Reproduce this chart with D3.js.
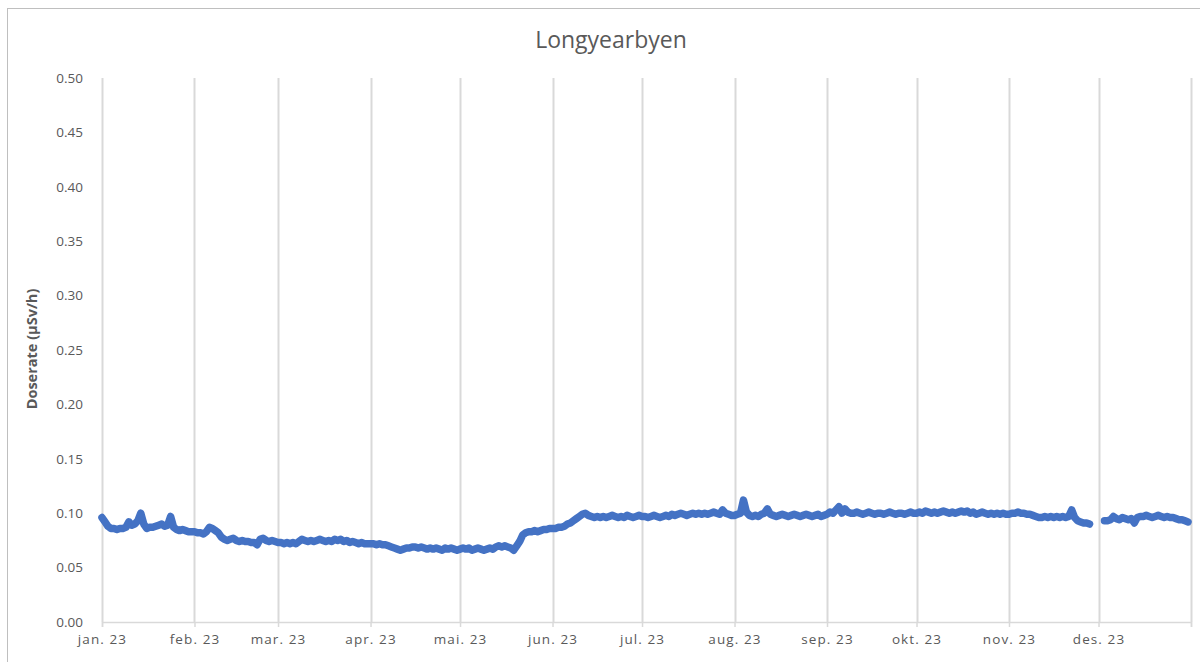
<!DOCTYPE html>
<html lang="en">
<head>
  <meta charset="UTF-8">
  <title>Longyearbyen</title>
  <script src="https://d3js.org/d3.v7.min.js"></script>
  <style>
    body { margin: 0; background: #ffffff; }
    text { font-family: "Open Sans", "Liberation Sans", sans-serif; }
  </style>
</head>
<body>
  <div id="chart"></div>
  <script>
    // daily dose rate (µSv/h) per month; null = no data
    const jan = [0.096, 0.092, 0.088, 0.086, 0.086, 0.085, 0.086, 0.086, 0.087, 0.092, 0.089, 0.090, 0.093, 0.100, 0.090, 0.086,
      0.087, 0.087, 0.088, 0.089, 0.090, 0.088, 0.089, 0.097, 0.087, 0.085, 0.084, 0.085, 0.084, 0.083, 0.083];
    const feb = [0.083, 0.082, 0.082, 0.081, 0.083, 0.087, 0.086, 0.084, 0.082, 0.078, 0.076, 0.075, 0.076, 0.077, 0.075, 0.074,
      0.075, 0.074, 0.074, 0.073, 0.073, 0.071, 0.076, 0.077, 0.075, 0.074, 0.075, 0.074];
    const mar = [0.073, 0.073, 0.072, 0.073, 0.072, 0.073, 0.072, 0.074, 0.076, 0.075, 0.074, 0.075, 0.074, 0.075, 0.076, 0.075,
      0.074, 0.075, 0.074, 0.076, 0.075, 0.076, 0.074, 0.075, 0.073, 0.074, 0.073, 0.072, 0.073, 0.072, 0.072];
    const apr = [0.072, 0.072, 0.071, 0.072, 0.071, 0.071, 0.070, 0.069, 0.068, 0.067, 0.066, 0.067, 0.068, 0.068, 0.069, 0.069,
      0.068, 0.069, 0.068, 0.067, 0.068, 0.067, 0.068, 0.067, 0.066, 0.068, 0.067, 0.068, 0.067, 0.066];
    const mai = [0.067, 0.068, 0.067, 0.068, 0.066, 0.067, 0.068, 0.067, 0.066, 0.067, 0.068, 0.067, 0.069, 0.070, 0.069, 0.070,
      0.069, 0.068, 0.066, 0.070, 0.074, 0.080, 0.082, 0.083, 0.083, 0.084, 0.083, 0.084, 0.085, 0.085, 0.086];
    const jun = [0.086, 0.086, 0.087, 0.087, 0.088, 0.090, 0.091, 0.093, 0.095, 0.097, 0.099, 0.100, 0.098, 0.097, 0.096, 0.097,
      0.096, 0.097, 0.096, 0.097, 0.098, 0.097, 0.096, 0.097, 0.096, 0.098, 0.097, 0.096, 0.097, 0.098];
    const jul = [0.097, 0.097, 0.096, 0.097, 0.098, 0.097, 0.096, 0.097, 0.098, 0.097, 0.099, 0.098, 0.099, 0.100, 0.099, 0.098,
      0.099, 0.100, 0.099, 0.100, 0.099, 0.100, 0.099, 0.100, 0.101, 0.100, 0.099, 0.103, 0.100, 0.099, 0.098];
    const aug = [0.098, 0.099, 0.100, 0.112, 0.101, 0.098, 0.097, 0.098, 0.097, 0.099, 0.100, 0.104, 0.099, 0.098, 0.097, 0.098,
      0.099, 0.098, 0.097, 0.098, 0.099, 0.098, 0.097, 0.098, 0.099, 0.098, 0.097, 0.098, 0.099, 0.097, 0.098];
    const sep = [0.099, 0.101, 0.100, 0.103, 0.106, 0.100, 0.104, 0.101, 0.100, 0.100, 0.101, 0.100, 0.099, 0.100, 0.101, 0.100,
      0.099, 0.100, 0.100, 0.099, 0.100, 0.101, 0.100, 0.099, 0.100, 0.100, 0.099, 0.100, 0.101, 0.100];
    const okt = [0.100, 0.101, 0.100, 0.102, 0.101, 0.100, 0.101, 0.100, 0.101, 0.102, 0.101, 0.100, 0.101, 0.100, 0.101, 0.102,
      0.101, 0.102, 0.100, 0.101, 0.099, 0.100, 0.101, 0.100, 0.099, 0.100, 0.099, 0.100, 0.099, 0.100, 0.099];
    const nov = [0.099, 0.100, 0.100, 0.101, 0.100, 0.100, 0.099, 0.099, 0.098, 0.097, 0.096, 0.096, 0.097, 0.096, 0.097, 0.096,
      0.097, 0.096, 0.097, 0.096, 0.097, 0.103, 0.096, 0.093, 0.092, 0.091, 0.091, 0.090, null, null];
    const des = [null, null, 0.093, 0.093, 0.094, 0.097, 0.095, 0.094, 0.096, 0.095, 0.094, 0.095, 0.091, 0.096, 0.097, 0.097,
      0.098, 0.097, 0.096, 0.097, 0.098, 0.097, 0.096, 0.097, 0.096, 0.096, 0.095, 0.094, 0.094, 0.093, 0.092];

    const months = [jan, feb, mar, apr, mai, jun, jul, aug, sep, okt, nov, des];
    const month_labels = ["jan. 23", "feb. 23", "mar. 23", "apr. 23", "mai. 23", "jun. 23",
      "jul. 23", "aug. 23", "sep. 23", "okt. 23", "nov. 23", "des. 23"];
    const y_ticks = [0, 0.05, 0.10, 0.15, 0.20, 0.25, 0.30, 0.35, 0.40, 0.45, 0.50];

    const data = [];
    months.forEach((m, mi) => {
      m.forEach((v, di) => data.push({ date: new Date(2023, mi, di + 1), value: v }));
    });

    const svg_width = 1200;
    const svg_height = 662;
    const left_edge = 102;
    const right_edge = 1191;
    const top_edge = 78;
    const bottom_edge = 622;
    const text_color = "#595959";
    const line_color = "#4472c4";

    const svg = d3.select("#chart")
      .append("svg")
      .attr("width", svg_width)
      .attr("height", svg_height);

    // chart border
    svg.append("rect")
      .attr("x", 7.5)
      .attr("y", 8.5)
      .attr("width", 1210)
      .attr("height", 700)
      .attr("fill", "none")
      .attr("stroke", "#bfbfbf")
      .attr("stroke-width", 1);

    const x = d3.scaleTime()
      .domain([new Date(2023, 0, 1), new Date(2024, 0, 1)])
      .range([left_edge, right_edge]);
    const y = d3.scaleLinear()
      .domain([0, 0.5])
      .range([bottom_edge, top_edge]);

    const grid_dates = d3.range(13).map(i => new Date(2023, i, 1));

    // vertical gridlines at month starts
    svg.append("g")
      .selectAll("line")
      .data(grid_dates)
      .enter()
      .append("line")
      .attr("x1", d => Math.round(x(d)) + 0.5)
      .attr("x2", d => Math.round(x(d)) + 0.5)
      .attr("y1", top_edge)
      .attr("y2", bottom_edge)
      .attr("stroke", "#d9d9d9")
      .attr("stroke-width", 2);

    // x axis
    const x_axis = svg.append("g")
      .attr("transform", "translate(0," + bottom_edge + ")")
      .call(d3.axisBottom(x)
        .tickValues(grid_dates)
        .tickSize(5)
        .tickFormat((d, i) => month_labels[i] || ""));
    x_axis.select(".domain").attr("stroke", "#d9d9d9").attr("stroke-width", 1.5);
    x_axis.selectAll(".tick line").attr("stroke", "#d9d9d9").attr("stroke-width", 1.5);
    x_axis.selectAll(".tick text")
      .attr("fill", text_color)
      .attr("font-size", 13.5)
      .attr("letter-spacing", "1.1px")
      .attr("dy", "1.0em")
      .attr("font-family", "\"Open Sans\", \"Liberation Sans\", sans-serif");

    // y axis (labels only)
    const y_axis = svg.append("g")
      .attr("transform", "translate(" + (left_edge - 16) + ",0)")
      .call(d3.axisLeft(y)
        .tickValues(y_ticks)
        .tickSize(0)
        .tickFormat(d3.format(".2f")));
    y_axis.select(".domain").remove();
    y_axis.selectAll(".tick text")
      .attr("fill", text_color)
      .attr("font-size", 13.5)
      .attr("font-family", "\"Open Sans\", \"Liberation Sans\", sans-serif");

    // data line
    const line = d3.line()
      .defined(d => d.value !== null)
      .x(d => x(d.date))
      .y(d => y(d.value));

    svg.append("path")
      .datum(data)
      .attr("fill", "none")
      .attr("stroke", line_color)
      .attr("stroke-width", 7.5)
      .attr("stroke-linejoin", "round")
      .attr("stroke-linecap", "round")
      .attr("d", line);

    // title
    svg.append("text")
      .attr("x", 611)
      .attr("y", 48)
      .attr("text-anchor", "middle")
      .attr("fill", text_color)
      .attr("font-size", 23)
      .text("Longyearbyen");

    // y axis title
    svg.append("text")
      .attr("transform", "translate(37,349) rotate(-90)")
      .attr("text-anchor", "middle")
      .attr("fill", text_color)
      .attr("font-size", 14.5)
      .attr("font-weight", "bold")
      .text("Doserate (µSv/h)");
  </script>
</body>
</html>
